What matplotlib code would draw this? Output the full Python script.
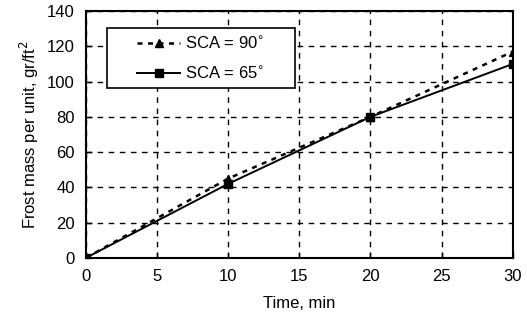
import matplotlib
matplotlib.use("Agg")
import matplotlib.pyplot as plt
from matplotlib.patches import Rectangle

plt.rcParams['font.family'] = ['Liberation Sans', 'DejaVu Sans']

time = [0, 10, 20, 30]
mass_90 = [0, 45, 80, 117]
mass_65 = [0, 42, 80, 110]
xticks = [0, 5, 10, 15, 20, 25, 30]
yticks = [0, 20, 40, 60, 80, 100, 120, 140]

fig = plt.figure(figsize=(5.27, 3.26), dpi=100)
ax = fig.add_axes([0.163, 0.209, 0.810, 0.757])

ax.plot(time, mass_90, color='black', linestyle=(0, (2, 2.2)), linewidth=1.8,
        marker='^', markersize=6, label='SCA = 90$^{\\circ}$')
ax.plot(time, mass_65, color='black', linestyle='-', linewidth=1.4,
        marker='s', markersize=5.5, label='SCA = 65$^{\\circ}$')

ax.set_xlim(0, 30)
ax.set_ylim(0, 140)
ax.set_xticks(xticks)
ax.set_yticks(yticks)
ax.grid(True, color='black', linestyle=(0, (4, 4)), linewidth=1)
ax.tick_params(direction='in', length=4, width=1, labelsize=12, pad=8)
for s in ax.spines.values():
    s.set_linewidth(1.5)

ax.set_xlabel('Time, min', fontsize=12, labelpad=9)
ax.set_ylabel('Frost mass per unit, gr/ft$^2$', fontsize=12, labelpad=4)

# legend box: white rectangle with black frame, entries centred inside
box = Rectangle((0.049, 0.688), 0.44, 0.243, transform=ax.transAxes,
                facecolor='white', edgecolor='black', linewidth=1.2, zorder=4)
ax.add_patch(box)
leg = ax.legend(loc='center', bbox_to_anchor=(0.049 + 0.22, 0.688 + 0.1215),
                fontsize=12, frameon=False, handlelength=2.6,
                labelspacing=0.75, handletextpad=0.3)
leg.set_zorder(5)

fig.savefig('out.png', dpi=100)
